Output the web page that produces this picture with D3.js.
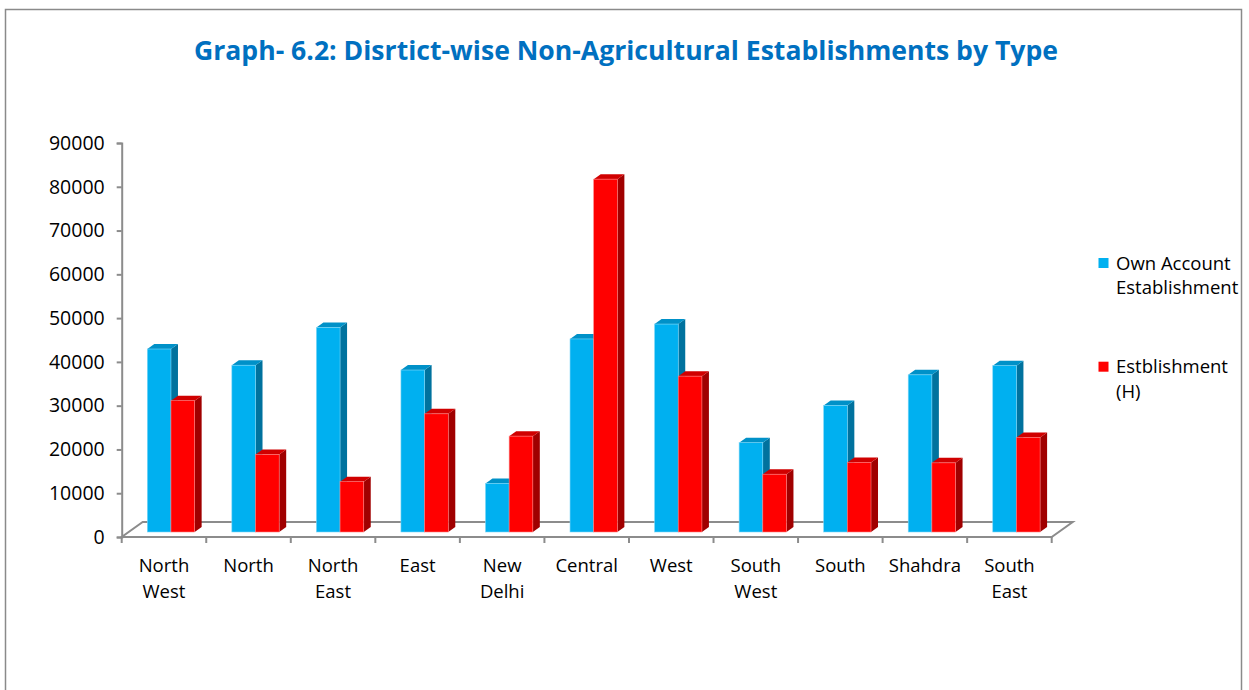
<!DOCTYPE html>
<html>
<head>
<meta charset="utf-8">
<script src="https://cdn.jsdelivr.net/npm/d3@7"></script>
<style>
html,body{margin:0;padding:0;background:#fff;}
svg{display:block;font-family:"Open Sans","Noto Sans",sans-serif;}
</style>
</head>
<body>
<svg id="chart" width="1249" height="690"></svg>
<script>
const categories = [["North","West"],["North"],["North","East"],["East"],["New","Delhi"],["Central"],["West"],["South","West"],["South"],["Shahdra"],["South","East"]];
const ownAccount = [41800, 38100, 46700, 37000, 11100, 44100, 47500, 20400, 28900, 35900, 38000];
const establishmentH = [30000, 17700, 11500, 27000, 21900, 80600, 35600, 13200, 15900, 15800, 21600];
const seriesNames = [["Own Account","Establishment"],["Estblishment","(H)"]];
const yTicks = [0,10000,20000,30000,40000,50000,60000,70000,80000,90000];
const titleText = "Graph- 6.2: Disrtict-wise Non-Agricultural Establishments by Type";

const svg = d3.select("#chart");

// frame
svg.append("rect").attr("x",5.5).attr("y",9.5).attr("width",1236).attr("height",720)
  .attr("fill","#fff").attr("stroke","#8a8a8a").attr("stroke-width",1.5);

// title
svg.append("text").attr("x",626).attr("y",60).attr("text-anchor","middle")
  .attr("fill","#0070C0").attr("font-weight","bold").attr("font-size",27)
  .attr("textLength",864).attr("lengthAdjust","spacingAndGlyphs")
  .text(titleText);

const front = {x0:121.7, x1:1051.7, y0:537, y1:143};
const depth = {dx:21, dy:-15};
const catIdx = categories.map((d,i)=>i);
const x = d3.scaleBand().domain(catIdx).range([front.x0, front.x1]).paddingInner(0).paddingOuter(0);
const y = d3.scaleLinear().domain([0,90000]).range([front.y0, front.y1]);
const bw = x.bandwidth();
const barW = bw*0.28;
const xs = d3.scaleBand().domain([0,1]).range([bw/2 - barW, bw/2 + barW]);

const axisColor = "#8c8c8c";
// floor
const fl = [[front.x0,front.y0],[front.x1,front.y0],[front.x1+depth.dx,front.y0+depth.dy],[front.x0+depth.dx,front.y0+depth.dy]];
svg.append("path").attr("d","M"+fl.map(p=>p.join(",")).join("L")+"Z")
  .attr("fill","#fff").attr("stroke",axisColor).attr("stroke-width",2).attr("stroke-linejoin","miter");

// y axis
const yAxis = d3.axisLeft(y).tickValues(yTicks).tickSize(5).tickPadding(12).tickFormat(d3.format("d"));
const ga = svg.append("g").attr("transform",`translate(${front.x0},0)`).call(yAxis);
ga.select(".domain").attr("stroke",axisColor).attr("stroke-width",2);
ga.selectAll(".tick line").attr("stroke",axisColor).attr("stroke-width",2);
ga.selectAll(".tick text").attr("font-size",19.5).attr("fill","#000").attr("font-family","Open Sans");

// x axis ticks
const xtickPos = catIdx.map(i=>x(i)).concat([front.x1]);
svg.append("g").selectAll("line").data(xtickPos).join("line")
  .attr("x1",d=>d).attr("x2",d=>d).attr("y1",front.y0).attr("y2",front.y0+6)
  .attr("stroke",axisColor).attr("stroke-width",2);

// bars
const colors = [
  {front:"#00B0F0", top:"#0091C8", side:"#00729E", edge:"#7fd7f7"},
  {front:"#FF0000", top:"#D00000", side:"#A00000", edge:"#ff8080"}
];
const data = [ownAccount, establishmentH];
const dFront = 1/3, dBack = 2/3;
const bars = svg.append("g");
catIdx.forEach(i=>{
  [0,1].forEach(s=>{
    const v = data[s][i];
    const fx0 = x(i)+xs(s) + depth.dx*dFront;
    const fx1 = fx0 + barW;
    const fyTop = y(v) + depth.dy*dFront;
    const fyBot = y(0) + depth.dy*dFront;
    const ddx = depth.dx*(dBack-dFront), ddy = depth.dy*(dBack-dFront);
    const c = colors[s];
    const g = bars.append("g");
    g.append("path").attr("d",`M${fx1},${fyTop}L${fx1+ddx},${fyTop+ddy}L${fx1+ddx},${fyBot+ddy}L${fx1},${fyBot}Z`).attr("fill",c.side);
    g.append("path").attr("d",`M${fx0},${fyTop}L${fx0+ddx},${fyTop+ddy}L${fx1+ddx},${fyTop+ddy}L${fx1},${fyTop}Z`).attr("fill",c.top);
    g.append("rect").attr("x",fx0).attr("y",fyTop).attr("width",barW).attr("height",fyBot-fyTop)
      .attr("fill",c.front).attr("stroke",c.edge).attr("stroke-width",0.6);
  });
});

// category labels
const lab = svg.append("g");
catIdx.forEach(i=>{
  const cx = x(i)+bw/2;
  const t = lab.append("text").attr("x",cx).attr("y",572).attr("text-anchor","middle")
    .attr("font-size",18.5).attr("fill","#000");
  categories[i].forEach((line,k)=>{
    t.append("tspan").attr("x",cx).attr("y",572+k*26).text(line);
  });
});

// legend
const leg = svg.append("g");
const legY = [258, 361.7];
seriesNames.forEach((nm,s)=>{
  leg.append("rect").attr("x",1098.5).attr("y",legY[s]).attr("width",10).attr("height",10).attr("fill",colors[s].front);
  const t = leg.append("text").attr("font-size",18.5).attr("fill","#000");
  nm.forEach((line,k)=>{
    t.append("tspan").attr("x",1116).attr("y",legY[s]+11.5+k*24.5).text(line);
  });
});
</script>
</body>
</html>
